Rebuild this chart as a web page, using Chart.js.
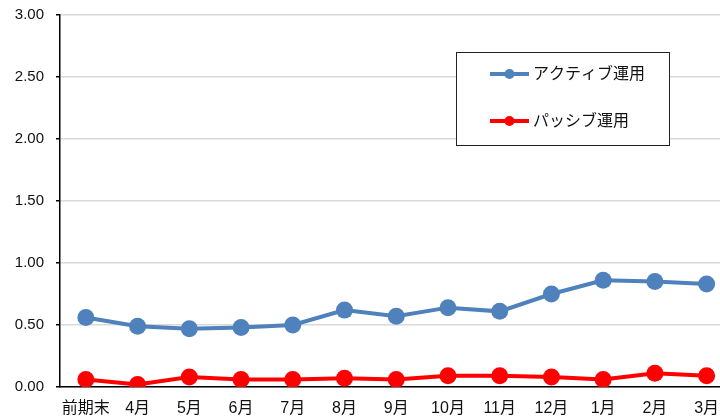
<!DOCTYPE html>
<html>
<head>
<meta charset="utf-8">
<script src="https://cdn.jsdelivr.net/npm/chart.js@4"></script>
<style>
  html, body { margin: 0; padding: 0; background: #fff; overflow: hidden; }
  #wrap { position: relative; width: 741px; height: 416px; }
</style>
</head>
<body>
<div id="wrap"><canvas id="myChart" width="741" height="416"></canvas></div>
<script>
let months = ['前期末', '4月', '5月', '6月', '7月', '8月', '9月', '10月', '11月', '12月', '1月', '2月', '3月'];
let activeValues = [0.56, 0.49, 0.47, 0.48, 0.50, 0.62, 0.57, 0.64, 0.61, 0.75, 0.86, 0.85, 0.83];
let passiveValues = [0.06, 0.02, 0.08, 0.06, 0.06, 0.07, 0.06, 0.09, 0.09, 0.08, 0.06, 0.11, 0.09];
let yTicks = [0, 0.5, 1, 1.5, 2, 2.5, 3];

let jpFont = '"Liberation Sans", "Noto Sans CJK JP", sans-serif';

// legend box drawn inside the plot, like the original
let boxLegend = {
    id: 'boxLegend',
    afterDraw: function (chart) {
        const ctx = chart.ctx;
        ctx.save();
        ctx.fillStyle = '#fff';
        ctx.fillRect(456, 52, 213, 93);
        ctx.strokeStyle = '#222';
        ctx.lineWidth = 1;
        ctx.strokeRect(456.5, 52.5, 213, 93);
        let rows = [74, 121];
        chart.data.datasets.forEach(function (ds, i) {
            let y = rows[i];
            ctx.strokeStyle = ds.borderColor;
            ctx.lineWidth = 4;
            ctx.beginPath();
            ctx.moveTo(490, y);
            ctx.lineTo(529, y);
            ctx.stroke();
            ctx.fillStyle = ds.borderColor;
            ctx.beginPath();
            ctx.arc(509.5, y, 5, 0, Math.PI * 2);
            ctx.fill();
            ctx.fillStyle = '#111';
            ctx.font = '16px ' + jpFont;
            ctx.textBaseline = 'middle';
            ctx.fillText(ds.label, 533, y + 1);
        });
        ctx.restore();
    }
};

const ctx = document.getElementById('myChart').getContext('2d');
var myChart = new Chart(ctx, {
    type: 'line',
    data: {
        labels: months,
        datasets: [{
            label: 'アクティブ運用',
            data: activeValues,
            borderColor: '#4F81BD',
            backgroundColor: '#4F81BD',
            borderWidth: 4,
            pointRadius: 8.5,
            pointHoverRadius: 8.5,
            pointBorderWidth: 0,
            tension: 0
        }, {
            label: 'パッシブ運用',
            data: passiveValues,
            borderColor: '#FF0000',
            backgroundColor: '#FF0000',
            borderWidth: 4,
            pointRadius: 8.5,
            pointHoverRadius: 8.5,
            pointBorderWidth: 0,
            tension: 0
        }]
    },
    options: {
        responsive: false,
        animation: false,
        layout: { padding: { top: 15, left: 0, right: 0, bottom: 0 } },
        plugins: {
            legend: { display: false },
            tooltip: { enabled: false }
        },
        scales: {
            x: {
                offset: true,
                grid: { display: false, drawTicks: false },
                border: { display: true, color: '#000', width: 1.5 },
                ticks: {
                    color: '#111',
                    font: { family: jpFont, size: 16 },
                    padding: 12,
                    maxRotation: 0,
                    autoSkip: false
                },
                afterFit: function (scale) {
                    scale.height = 29;
                    scale.paddingLeft = 0;
                    scale.paddingRight = 0;
                }
            },
            y: {
                min: 0,
                max: 3,
                afterBuildTicks: function (scale) {
                    scale.ticks = yTicks.map(function (v) { return { value: v }; });
                },
                grid: { color: '#d9d9d9', lineWidth: 1.5, tickLength: 4, tickColor: '#000' },
                border: { display: true, color: '#000', width: 1.5 },
                ticks: {
                    color: '#111',
                    font: { family: jpFont, size: 15 },
                    padding: 12,
                    callback: function (v) { return Number(v).toFixed(2); }
                },
                afterFit: function (scale) {
                    scale.width = 60;
                    scale.paddingTop = 0;
                    scale.paddingBottom = 0;
                }
            }
        }
    },
    plugins: [boxLegend]
});
</script>
</body>
</html>
